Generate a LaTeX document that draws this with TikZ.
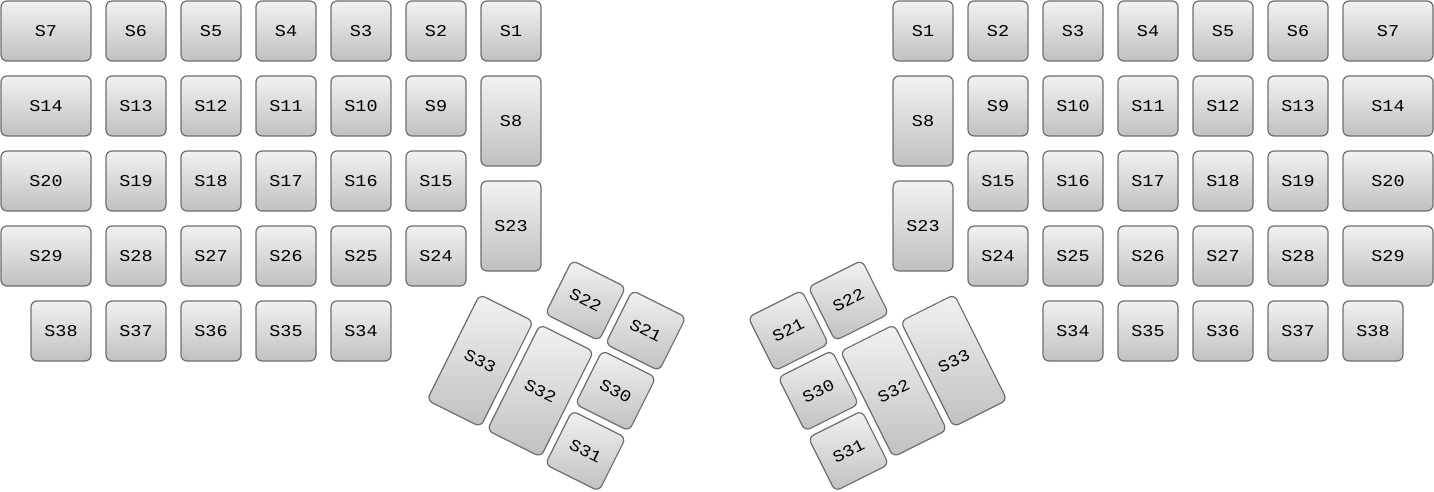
\documentclass[tikz,border=0pt]{standalone}
\usepackage{fontspec}
\newfontfamily\keyfont[FakeStretch=1.12]{Liberation Mono}
\begin{document}
\begin{tikzpicture}[x=1pt,y=-1pt,
  keybox/.style={draw=keyedge, line width=1.2pt, rounded corners=6pt,
    top color=keytop, bottom color=keybot, inner sep=0pt,
    font=\keyfont\fontsize{16.5}{16.5}\selectfont, text=black}]
\definecolor{keyedge}{HTML}{6E6E6E}
\definecolor{keytop}{HTML}{F2F2F2}
\definecolor{keybot}{HTML}{C0C0C0}
\useasboundingbox (0,0) rectangle (1434,492);
% left key: name, left, top, w, h, label
\newcommand\lkey[6]{\node[keybox, minimum width=#4pt, minimum height=#5pt] (#1) at ({#2+#4/2},{#3+#5/2}) {#6};}
\newcommand\rkey[6]{\node[keybox, minimum width=#4pt, minimum height=#5pt] (#1) at ({1434-#2-#4/2},{#3+#5/2}) {#6};}
\newcommand\both[5]{\lkey{L#5}{#1}{#2}{#3}{#4}{S#5}\rkey{R#5}{#1}{#2}{#3}{#4}{S#5}}
% row 0
\both{1}{1}{90}{60}{7}
\both{106}{1}{60}{60}{6}
\both{181}{1}{60}{60}{5}
\both{256}{1}{60}{60}{4}
\both{331}{1}{60}{60}{3}
\both{406}{1}{60}{60}{2}
\both{481}{1}{60}{60}{1}
% row 1
\both{1}{76}{90}{60}{14}
\both{106}{76}{60}{60}{13}
\both{181}{76}{60}{60}{12}
\both{256}{76}{60}{60}{11}
\both{331}{76}{60}{60}{10}
\both{406}{76}{60}{60}{9}
\both{481}{76}{60}{90}{8}
% row 2
\both{1}{151}{90}{60}{20}
\both{106}{151}{60}{60}{19}
\both{181}{151}{60}{60}{18}
\both{256}{151}{60}{60}{17}
\both{331}{151}{60}{60}{16}
\both{406}{151}{60}{60}{15}
\both{481}{181}{60}{90}{23}
% row 3
\both{1}{226}{90}{60}{29}
\both{106}{226}{60}{60}{28}
\both{181}{226}{60}{60}{27}
\both{256}{226}{60}{60}{26}
\both{331}{226}{60}{60}{25}
\both{406}{226}{60}{60}{24}
% row 4
\both{31}{301}{60}{60}{38}
\both{106}{301}{60}{60}{37}
\both{181}{301}{60}{60}{36}
\both{256}{301}{60}{60}{35}
\both{331}{301}{60}{60}{34}
% thumb clusters: cx, cy, h, label
\newcommand\lthumb[4]{\node[keybox, rotate=-26.57, minimum width=60pt, minimum height=#3pt] (LT#4) at (#1,#2) {S#4};
  \node[keybox, rotate=26.57, minimum width=60pt, minimum height=#3pt] (RT#4) at ({1434-#1},#2) {S#4};}
\lthumb{585.5}{300.5}{60}{22}
\lthumb{645.7}{330.6}{60}{21}
\lthumb{615.6}{390.8}{60}{30}
\lthumb{585.5}{451.0}{60}{31}
\lthumb{540.35}{390.8}{118}{32}
\lthumb{480.15}{360.7}{118}{33}
\end{tikzpicture}
\end{document}
